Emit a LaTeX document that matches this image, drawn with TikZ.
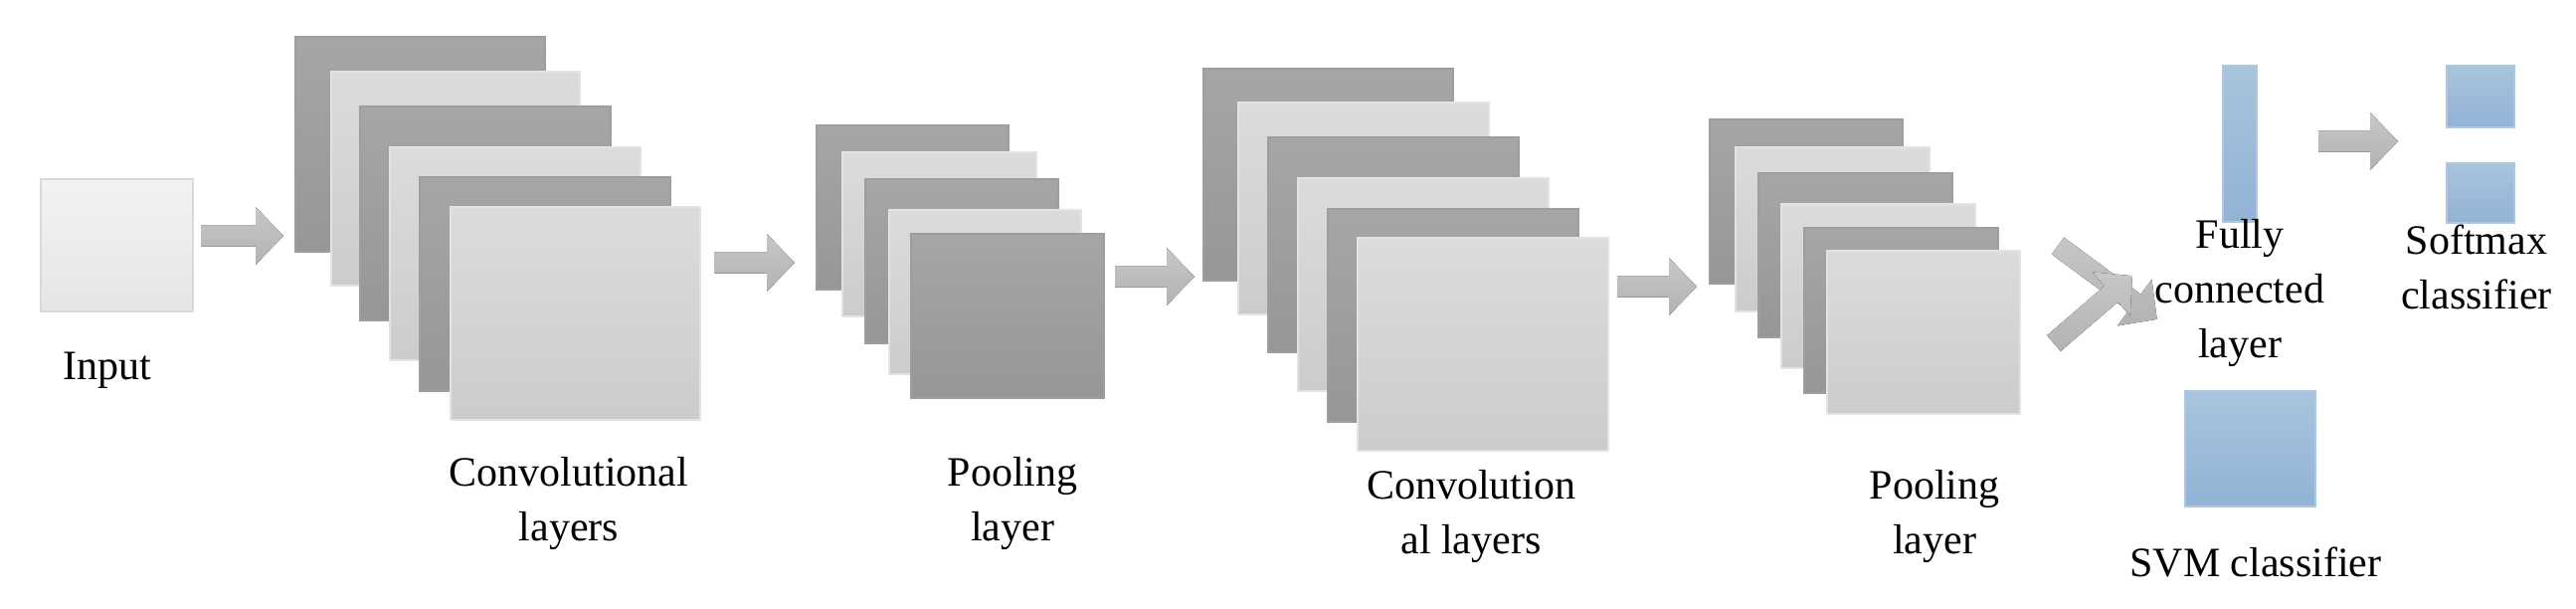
\documentclass[tikz,border=0pt]{standalone}
\usepackage{fontspec}
\setmainfont{Liberation Serif}
\begin{document}
\begin{tikzpicture}[x=1pt,y=-1pt,
  base/.style={rectangle,inner sep=0pt,anchor=north west,line width=2pt},
  dk/.style={base,top color=black!35,bottom color=black!41,draw=black!38},
  lt/.style={base,top color=black!14,bottom color=black!20,draw=black!11},
  inp/.style={base,top color=black!5,bottom color=black!10,draw=black!15},
  bl/.style={base,top color={rgb,255:red,168;green,196;blue,221},bottom color={rgb,255:red,146;green,179;blue,214},draw={rgb,255:red,175;green,200;blue,225}},
  lbl/.style={font=\fontsize{42}{55}\selectfont,align=center,inner sep=0pt},
  arr/.style={top color=black!22,bottom color=black!30}]
\useasboundingbox (0,0) rectangle (2590,611);
\newcommand\lay[6]{\node[#2,minimum width={(#5-#3)*1pt},minimum height={(#6-#4)*1pt}] (#1) at (#3,#4) {};}
\newcommand\barr[4]{\fill[arr,shift={(#1,#2)},rotate=#3] (0,-10.5)--(#4-28,-10.5)--(#4-28,-29)--(#4,0)--(#4-28,29)--(#4-28,10.5)--(0,10.5)--cycle;}
% input
\lay{in}{inp}{40}{179}{193}{312}
\node[lbl] (inl) at (108,372) {Input};
\barr{202}{237}{0}{83}
% conv1
\lay{c1}{dk}{296}{36}{547}{252}
\lay{c2}{lt}{332}{71}{582}{286}
\lay{c3}{dk}{361}{106}{613}{321}
\lay{c4}{lt}{391}{147}{643}{361}
\lay{c5}{dk}{421}{177}{673}{392}
\lay{c6}{lt}{452}{207}{703}{421}
\node[lbl] (c1l) at (572,506) {Convolutional\\layers};
\barr{718}{264}{0}{81}
% pool1
\lay{p1}{dk}{820}{125}{1013}{290}
\lay{p2}{lt}{846}{152}{1041}{317}
\lay{p3}{dk}{869}{179}{1063}{344}
\lay{p4}{lt}{893}{210}{1086}{375}
\lay{p5}{dk}{915}{234}{1109}{399}
\node[lbl] (p1l) at (1018,506) {Pooling\\layer};
\barr{1121}{278}{0}{80}
% conv2
\lay{d1}{dk}{1209}{68}{1460}{281}
\lay{d2}{lt}{1244}{102}{1496}{315}
\lay{d3}{dk}{1274}{137}{1526}{353}
\lay{d4}{lt}{1304}{178}{1556}{392}
\lay{d5}{dk}{1334}{209}{1586}{423}
\lay{d6}{lt}{1364}{238}{1616}{452}
\node[lbl] (d1l) at (1479,519) {Convolution\\al layers};
\barr{1626}{288}{0}{80}
% pool2
\lay{q1}{dk}{1718}{119}{1912}{284}
\lay{q2}{lt}{1744}{147}{1939}{312}
\lay{q3}{dk}{1767}{173}{1962}{338}
\lay{q4}{lt}{1790}{204}{1985}{369}
\lay{q5}{dk}{1813}{228}{2008}{394}
\lay{q6}{lt}{1836}{251}{2030}{415}
\node[lbl] (q1l) at (1945,519) {Pooling\\layer};
\barr{2069}{247}{-36.5}{124}
\barr{2065}{345}{40.7}{104}
% fc
\lay{fc}{bl}{2234}{65}{2268}{222}
\node[lbl] (fcl) at (2252,294) {Fully\\connected\\layer};
\barr{2331}{142}{0}{80}
\lay{s1}{bl}{2459}{65}{2527}{127}
\lay{s2}{bl}{2459}{163}{2527}{223}
\node[lbl] (sl) at (2490,268) {Softmax\\classifier};
\lay{svm}{bl}{2196}{392}{2327}{508}
\node[lbl] (svml) at (2268,565) {SVM classifier};
\end{tikzpicture}
\end{document}
